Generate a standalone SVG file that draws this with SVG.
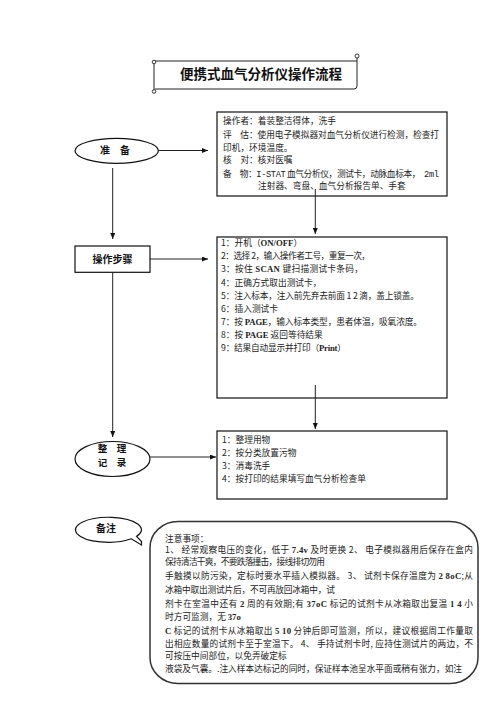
<svg xmlns="http://www.w3.org/2000/svg" width="496" height="702" viewBox="0 0 496 702">
<defs>
<marker id="ah" markerUnits="userSpaceOnUse" markerWidth="6" markerHeight="5" refX="6" refY="2.5" orient="auto">
<path d="M0,0 L6,2.5 L0,5 z" fill="#111"/>
</marker>
<style>
.box{fill:#fff;stroke:#111;stroke-width:1.2}
.ln{fill:none;stroke:#222;stroke-width:1}
.t{font-family:"Noto Sans CJK SC","Liberation Serif",sans-serif;font-size:8.7px;fill:#222}
.b{font-family:"Liberation Serif",serif;font-weight:bold}
.h{font-family:"Noto Sans CJK SC",sans-serif;font-weight:bold;fill:#111}
</style>
</defs>
<rect width="496" height="702" fill="#fff"/>

<g id="title">
<path class="ln" d="M155,61 L357,61 M357,56 L357,86 Q357,89 354,89 L155,89 M154,62 L154,92" stroke-width="1.1"/>
<circle cx="357" cy="56" r="2" fill="#fff" stroke="#222" stroke-width="0.9"/>
<circle cx="154" cy="62" r="1.8" fill="#fff" stroke="#222" stroke-width="0.9"/>
<circle cx="154" cy="91.5" r="1.8" fill="#fff" stroke="#222" stroke-width="0.9"/>
<text class="h" x="261" y="78.5" font-size="13.5" text-anchor="middle" textLength="162">便携式血气分析仪操作流程</text>
</g>

<g id="prep">
<ellipse class="box" cx="116.7" cy="150.8" rx="41.7" ry="12.5" stroke-width="1"/>
<text class="h" x="115" y="154.3" font-size="10" text-anchor="middle">准　备</text>
</g>

<g id="prep-box">
<rect class="box" x="217" y="112" width="230" height="84"/>
<text class="t" x="223" y="123.7">操作者：着装整洁得体，洗手</text>
<text class="t" x="223" y="137.7" textLength="216">评　估：使用电子模拟器对血气分析仪进行检测，检查打</text>
<text class="t" x="223" y="150.7">印机，环境温度。</text>
<text class="t" x="223" y="163.2">核　对：核对医嘱</text>
<text class="t" x="223" y="176.5" textLength="216">备　物：<tspan font-family="Liberation Mono,monospace">I-STAT</tspan> 血气分析仪，测试卡，动脉血标本，　<tspan font-family="Liberation Mono,monospace">2ml</tspan></text>
<text class="t" x="258" y="189.2">注射器、弯盘、血气分析报告单、手套</text>
</g>

<g id="steps">
<rect class="box" x="75" y="246" width="75" height="26.3" stroke-width="1"/>
<text class="h" x="112.5" y="262.7" font-size="10" text-anchor="middle">操作步骤</text>
</g>

<g id="steps-box">
<rect class="box" x="217" y="237" width="230" height="161"/>
<text class="t" x="221" y="246.2">1：开机（<tspan class="b">ON/OFF</tspan>）</text>
<text class="t" x="221" y="259.3" textLength="149">2：选择 2，输入操作者工号，重复一次，</text>
<text class="t" x="221" y="272.4" textLength="142">3：按住 <tspan class="b">SCAN</tspan> 键扫描测试卡条码，</text>
<text class="t" x="221" y="285.5">4：正确方式取出测试卡，</text>
<text class="t" x="221" y="298.6" textLength="198">5：注入标本，注入前先弃去前面 1 2 滴，盖上锁盖。</text>
<text class="t" x="221" y="311.7">6：插入测试卡</text>
<text class="t" x="221" y="324.8" textLength="201">7：按 <tspan class="b">PAGE</tspan>，输入标本类型，患者体温，吸氧浓度。</text>
<text class="t" x="221" y="337.9">8：按 <tspan class="b">PAGE</tspan> 返回等待结果</text>
<text class="t" x="221" y="351" textLength="125">9：结果自动显示并打印（<tspan class="b">Print</tspan>）</text>
</g>

<g id="record">
<ellipse class="box" cx="112.5" cy="459" rx="37.5" ry="17.5" stroke-width="1"/>
<text class="h" x="112" y="451.8" font-size="9.5" text-anchor="middle">整　理</text>
<text class="h" x="112" y="465.8" font-size="9.5" text-anchor="middle">记　录</text>
</g>

<g id="record-box">
<rect class="box" x="217" y="431" width="230" height="68"/>
<text class="t" x="222" y="443.2">1：整理用物</text>
<text class="t" x="222" y="456.2">2：按分类放置污物</text>
<text class="t" x="222" y="469.2">3：消毒洗手</text>
<text class="t" x="222" y="482.2">4：按打印的结果填写血气分析检查单</text>
</g>

<g id="note-label">
<path class="box" stroke-width="1" d="M131.3,538.8 A33,12.5 0 1 1 136.6,536.3 L141.5,541.5 L141.5,545 Z"/>
<text class="h" x="106" y="531.5" font-size="10" text-anchor="middle">备注</text>
</g>

<g id="notes">
<rect x="150" y="521.5" width="328" height="162" rx="28" ry="26" fill="#fff" stroke="#333" stroke-width="1.5"/>
<text class="t" x="165" y="541.5">注意事项：</text>
<text class="t" x="165" y="553.2" textLength="308">1、 经常观察电压的变化，低于 <tspan class="b">7.4v</tspan> 及时更换 2、 电子模拟器用后保存在盒内</text>
<text class="t" x="165" y="565.2" textLength="160">保持清洁干爽，不要跌落撞击，接线排切勿用</text>
<text class="t" x="165" y="579.2" textLength="308">手触摸以防污染，定标时要水平插入模拟器。 3、 试剂卡保存温度为 <tspan class="b">2 8oC</tspan>;从</text>
<text class="t" x="165" y="593.2" textLength="170">冰箱中取出测试片后，不可再放回冰箱中，试</text>
<text class="t" x="165" y="607.2" textLength="308">剂卡在室温中还有 <tspan class="b">2</tspan> 周的有效期;有 <tspan class="b">37oC</tspan> 标记的试剂卡从冰箱取出复温 <tspan class="b">1 4</tspan> 小</text>
<text class="t" x="165" y="619.7">时方可监测，无 <tspan class="b">37o</tspan></text>
<text class="t" x="165" y="634.2" textLength="308"><tspan class="b">C</tspan> 标记的试剂卡从冰箱取出 <tspan class="b">5 10</tspan> 分钟后即可监测，所以，建议根据周工作量取</text>
<text class="t" x="165" y="646.5" textLength="308">出相应数量的试剂卡至于室温下。 4、 手持试剂卡时, 应持住测试片的两边，不</text>
<text class="t" x="165" y="659.2">可按压中间部位，以免弄破定标</text>
<text class="t" x="165" y="671.7" textLength="297">液袋及气囊。.注入样本达标记的同时，保证样本池呈水平面或稍有张力，如注</text>
</g>

<g id="connectors">
<path class="ln" d="M158.4,150.5 L208,150.5" marker-end="url(#ah)"/>
<path class="ln" d="M150,259 L208,259" marker-end="url(#ah)"/>
<path class="ln" d="M150,457 L216,457" marker-end="url(#ah)"/>
<path class="ln" d="M112.7,168 L112.7,239" marker-end="url(#ah)"/>
<path class="ln" d="M112.7,272.3 L112.7,437" marker-end="url(#ah)"/>
<path class="ln" d="M315.3,189 L315.3,234" marker-end="url(#ah)"/>
<path class="ln" d="M315.3,385 L315.3,429" marker-end="url(#ah)"/>
</g>
</svg>
